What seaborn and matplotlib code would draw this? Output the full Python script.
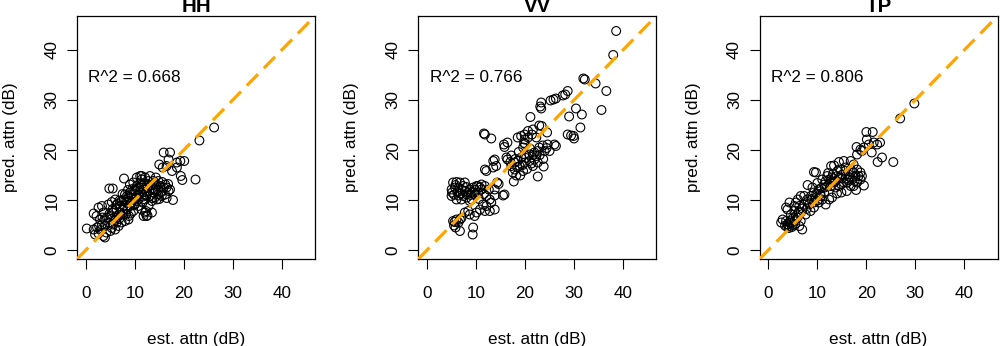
import numpy as np
import pandas as pd
import matplotlib
matplotlib.use("Agg")
import matplotlib.pyplot as plt
import seaborn as sns

# values (est. attn, pred. attn), in dB
hh_est = [0.2, 1.6, 1.9, 2.6, 3.6, 3.9, 5.0, 6.0, 6.3,
          1.6, 2.6, 3.3, 2.2, 3.6, 4.3, 4.6, 5.3, 6.0, 6.3, 7.0, 7.7, 8.4, 8.7, 9.4, 10.1, 10.4,
          11.1, 11.4, 12.1, 12.8, 13.1, 13.8, 14.5, 15.2, 15.9, 16.5, 16.9, 16.2, 15.5, 14.8, 14.1,
          13.5, 12.8, 12.3, 11.8, 12.6, 11.4, 10.7, 9.7, 8.8, 8.7, 8.0, 7.3, 6.7, 5.6, 4.6, 3.9,
          3.3, 2.9, 5.0, 5.6, 6.3, 7.0, 7.7, 8.4, 9.0, 9.7, 10.4, 11.1, 11.8, 12.4, 13.1, 13.8,
          14.5, 12.1, 10.4, 9.0, 8.4, 7.7, 11.1, 9.7, 9.0, 10.4, 11.4, 4.8, 5.5, 7.8, 17.8,
          15.9, 17.2, 15.0, 16.5, 17.6, 18.6, 20.1, 19.3, 18.6, 16.9, 15.7, 19.4, 19.7, 22.4,
          23.2, 26.2, 13.1, 13.8, 14.8, 15.2, 16.2, 17.2, 16.5, 12.4, 12.1,
          6.5, 7.3, 8.0, 9.3, 10.0, 10.8, 11.6, 13.0, 6.8, 5.3, 4.2, 3.0, 2.3, 13.5, 14.2,
          12.5, 10.9, 9.5, 8.6, 7.5, 15.6, 16.8, 14.3, 11.7,
          4.0, 4.8, 5.5, 6.2, 6.9, 7.5, 8.2, 8.9, 9.6, 10.2, 10.9, 11.5, 12.0, 12.6, 13.3,
          14.0, 14.7, 15.4, 9.9, 8.3, 7.1, 6.0, 5.1, 3.4, 2.7, 10.6, 11.9, 13.6, 15.0, 9.2]
hh_pred = [4.3, 4.1, 3.1, 3.3, 2.8, 2.5, 3.8, 4.1, 5.5,
           7.3, 8.5, 8.8, 6.8, 7.5, 6.5, 9.1, 9.6, 10.1, 8.1, 7.5, 8.8, 9.5, 10.5, 11.1, 11.8, 12.8,
           14.8, 14.1, 14.5, 13.8, 12.8, 12.1, 12.8, 12.5, 12.5, 12.5, 11.8, 11.1, 10.8, 11.1, 10.5,
           9.8, 8.8, 7.8, 6.8, 6.9, 8.1, 8.8, 7.8, 6.8, 6.1, 5.8, 5.5, 4.8, 5.1, 5.5, 4.8,
           5.1, 6.1, 6.8, 7.5, 6.8, 8.8, 10.1, 10.8, 11.5, 10.1, 10.8, 11.5, 12.1, 11.5, 10.8, 11.5,
           10.1, 10.1, 9.8, 8.8, 8.1, 7.1, 13.5, 13.5, 13.1, 14.5, 14.8, 12.3, 12.3, 14.3, 10.0,
           19.5, 19.5, 17.1, 16.8, 15.8, 16.5, 17.8, 17.8, 17.5, 18.1, 16.5, 14.8, 14.0, 14.1,
           21.9, 24.5, 14.8, 13.8, 13.8, 12.8, 13.1, 12.1, 10.4, 6.8, 7.5,
           9.3, 9.8, 11.1, 9.4, 9.1, 10.2, 9.5, 11.8, 6.2, 4.4, 3.5, 4.0, 4.5, 7.5, 12.0,
           13.2, 12.6, 12.2, 12.0, 11.2, 13.6, 13.2, 14.5, 10.7,
           6.0, 7.2, 8.2, 9.0, 9.9, 8.0, 7.2, 9.8, 9.0, 10.3, 11.0, 12.8, 11.0, 12.4, 13.0,
           13.2, 12.0, 11.6, 12.0, 10.0, 7.0, 6.0, 6.2, 6.5, 4.8, 12.2, 13.2, 10.4, 10.2, 7.3]

vv_est = [38.6, 38.0, 34.4, 36.6, 35.6, 31.9, 32.2, 28.7, 28.2, 27.7, 26.3, 25.8, 25.2, 23.3,
          23.1, 23.3, 30.4, 31.6, 29.0, 31.3, 28.7, 29.4, 30.0, 29.9, 21.1, 22.9, 23.4, 21.6,
          20.6, 19.9, 19.2, 18.5, 22.3, 20.6, 21.4,
          26.0, 24.6, 23.6, 22.9, 24.0, 22.6, 21.9, 20.9, 19.9, 19.2, 18.5, 17.9, 17.2, 17.5,
          17.9, 18.9, 19.9, 20.9, 21.9, 22.6, 21.6, 19.6, 22.6, 17.7, 19.6, 19.8, 19.9, 17.2,
          16.4, 16.2, 15.8, 16.4, 15.7, 11.6, 11.8, 13.1, 13.8, 13.5, 14.1, 13.5, 12.1, 11.8,
          14.3, 14.6, 13.8, 12.6, 11.8, 15.5, 15.8,
          5.3, 6.0, 6.7, 7.7, 5.0, 5.7, 6.4, 7.0, 7.7, 8.4, 9.1, 9.7, 10.4, 11.1, 10.1, 9.4,
          8.7, 8.1, 7.4, 6.4, 5.5, 5.0, 5.1, 7.0, 8.1, 9.1, 10.4, 11.1, 8.7, 6.0,
          12.1, 12.8, 11.4, 12.1, 13.1, 13.8, 11.8, 10.8, 10.1, 9.7, 8.7, 8.4, 12.8, 13.8, 7.7,
          5.3, 5.6, 6.0, 6.4, 5.5, 6.7, 7.0, 5.8, 6.7, 9.4, 9.3,
          25.0, 26.3, 24.5, 23.8, 18.2, 20.4,
          18.0, 18.7, 19.5, 20.2, 21.0, 21.6, 22.3, 23.0, 23.7, 24.4, 20.0, 17.0, 18.4, 19.0,
          21.3, 6.2, 7.3, 8.0, 9.8, 10.8, 6.8, 5.8, 8.9, 10.6, 11.6]
vv_pred = [43.8, 39.0, 33.3, 31.8, 28.0, 34.3, 34.1, 31.8, 31.1, 30.9, 30.3, 30.1, 29.9, 29.5,
           28.7, 28.3, 28.3, 27.1, 26.7, 24.5, 23.1, 22.9, 22.3, 22.8, 26.6, 24.9, 24.8, 24.1,
           23.8, 23.1, 22.8, 22.5, 22.5, 22.5, 23.1,
           21.1, 21.1, 20.9, 20.5, 19.8, 19.8, 19.5, 19.1, 19.1, 18.5, 17.8, 17.5, 16.8, 15.5,
           16.1, 16.8, 17.5, 17.8, 18.1, 17.5, 16.8, 15.8, 14.7, 13.7, 20.5, 21.4, 22.1, 18.9,
           18.1, 18.5, 20.6, 21.5, 21.1, 23.3, 23.1, 22.3, 18.1, 17.8, 16.8, 16.5, 15.8, 16.1,
           13.5, 13.2, 12.1, 12.1, 12.8, 10.9, 11.1,
           13.5, 13.6, 13.5, 13.5, 12.1, 12.5, 12.5, 12.1, 11.8, 11.5, 11.5, 11.1, 11.5, 12.1, 12.8, 12.5,
           12.1, 11.1, 10.8, 10.9, 11.1, 10.8, 11.5, 10.1, 10.5, 10.1, 12.8, 13.1, 9.8, 10.1,
           10.8, 10.1, 9.1, 8.8, 9.5, 8.1, 7.8, 8.1, 7.5, 6.8, 7.1, 7.8, 7.8, 10.9, 7.5,
           5.8, 5.6, 6.1, 5.5, 4.9, 6.1, 6.4, 4.5, 3.8, 4.5, 3.1,
           19.8, 20.8, 23.5, 16.7, 14.9, 16.2,
           18.2, 19.6, 17.0, 18.4, 20.3, 19.0, 18.8, 19.0, 18.2, 20.4, 21.2, 17.6, 16.6, 14.9,
           17.3, 11.6, 12.8, 12.6, 12.0, 12.5, 11.3, 13.0, 11.0, 10.2, 11.2]

tp_est = [29.8, 26.9, 25.5, 23.2, 22.3, 21.1, 20.0, 21.3, 22.8, 22.2, 21.5, 20.5, 19.5, 18.8,
          18.1, 19.1, 18.0, 20.1, 16.8, 15.4, 14.4, 13.4, 12.8, 17.4, 9.7, 9.3, 19.5, 17.4,
          14.9, 13.0,
          18.1, 18.8, 17.8, 17.1, 16.4, 15.7, 15.1, 14.4, 13.7, 13.0, 12.4, 11.7, 11.0, 11.4,
          12.0, 12.7, 13.7, 14.4, 15.4, 16.1, 16.8, 18.1, 18.8, 19.1, 17.4, 16.8, 14.7, 14.1,
          9.0, 9.3, 8.7, 7.9, 7.3, 6.6, 6.0, 5.6, 5.3, 6.3, 7.3, 8.3, 9.3, 10.3, 11.0, 11.7,
          12.4, 11.4, 10.3, 10.7, 9.7,
          3.9, 3.6, 4.6, 5.6, 6.6, 7.6, 8.6, 9.3, 5.3, 4.3,
          2.9, 2.6, 3.6, 3.9, 4.3, 4.6, 5.3, 5.9, 6.6, 6.3, 6.9,
          8.0, 10.0, 12.2, 14.0, 16.0, 15.8, 17.9, 10.6, 4.8, 4.2, 5.0, 3.4,
          12.0, 13.2, 14.0, 15.0, 15.8, 16.5, 17.6, 18.4, 13.4, 12.6, 11.5, 10.8, 9.8, 8.8,
          8.0, 7.0, 6.2, 5.0, 4.2, 3.8, 4.5, 5.5, 7.8, 10.0, 14.8, 16.3]
tp_pred = [29.3, 26.3, 17.6, 18.5, 17.6, 19.5, 23.6, 23.6, 21.5, 21.1, 21.5, 21.1, 20.5, 20.1,
           19.1, 19.8, 20.6, 22.1, 17.8, 17.8, 17.6, 16.9, 16.8, 17.1, 15.5, 15.6, 12.9, 12.8,
           11.5, 10.5,
           16.1, 15.5, 14.8, 14.1, 15.1, 15.8, 15.1, 14.5, 13.8, 14.5, 14.1, 13.8, 14.1, 13.1,
           12.8, 12.8, 12.5, 12.8, 13.5, 13.5, 12.8, 13.5, 14.1, 14.8, 15.5, 16.1, 16.1, 15.8,
           12.5, 11.5, 10.8, 10.1, 10.8, 10.8, 10.1, 9.5, 8.8, 8.8, 9.1, 9.1, 9.5, 9.5, 10.1, 9.1,
           10.1, 11.5, 12.1, 10.8, 10.5,
           8.1, 8.5, 7.1, 6.8, 7.5, 7.1, 7.8, 8.5, 7.8, 9.5,
           6.1, 5.5, 5.8, 5.1, 4.8, 5.5, 5.8, 6.5, 5.8, 4.8, 4.1,
           13.0, 13.4, 15.4, 11.3, 11.8, 14.3, 12.0, 11.2, 4.6, 4.4, 5.0, 4.9,
           14.8, 15.2, 14.8, 14.3, 16.5, 14.6, 13.8, 14.8, 13.5, 13.4, 12.5, 12.4, 11.3, 10.2,
           9.6, 8.3, 7.6, 6.4, 5.5, 4.6, 5.9, 5.2, 8.2, 9.9, 13.2, 14.0]

panels = ["HH", "VV", "TP"]
r2_labels = ["R^2 = 0.668", "R^2 = 0.766", "R^2 = 0.806"]
ticks = [0, 10, 20, 30, 40]

plt.rcParams['font.family'] = ['Liberation Sans', 'DejaVu Sans']
plt.rcParams['font.size'] = 12.3

fig, axes = plt.subplots(1, 3, figsize=(10, 3.46), dpi=100)
fig.subplots_adjust(left=0.077, right=0.9976, bottom=0.2514, top=0.9538, wspace=0.434)

series = [(hh_est, hh_pred), (vv_est, vv_pred), (tp_est, tp_pred)]
for ax, name, r2, (est, pred) in zip(axes, panels, r2_labels, series):
    df = pd.DataFrame({'est': est, 'pred': pred})
    sns.scatterplot(data=df, x='est', y='pred', ax=ax, facecolors='none',
                    edgecolor='black', s=40, linewidth=0.8, zorder=2)
    ax.axline((0, 0), slope=1, color='#FFA500', lw=2.3,
              linestyle=(0, (5, 2.6)), zorder=3)
    ax.set_xlim(-1.8, 46.8)
    ax.set_ylim(-1.8, 46.8)
    ax.set_xticks(ticks)
    ax.set_yticks(ticks)
    ax.tick_params(length=7.2, width=0.8, pad=12.5, labelsize=12.3)
    ax.tick_params(axis='y', pad=5.5)
    for lab in ax.get_yticklabels():
        lab.set_rotation(90)
        lab.set_va('center')
    for sp in ax.spines.values():
        sp.set_linewidth(0.9)
        sp.set_color('black')
    ax.set_xlabel("est. attn (dB)", labelpad=22)
    ax.set_ylabel("pred. attn (dB)", labelpad=19)
    ax.set_title(name, fontweight='bold', fontsize=14.8, pad=1)
    ax.text(0.5, 34.5, r2, ha='left', va='center')

fig.savefig("out.png", dpi=100)
